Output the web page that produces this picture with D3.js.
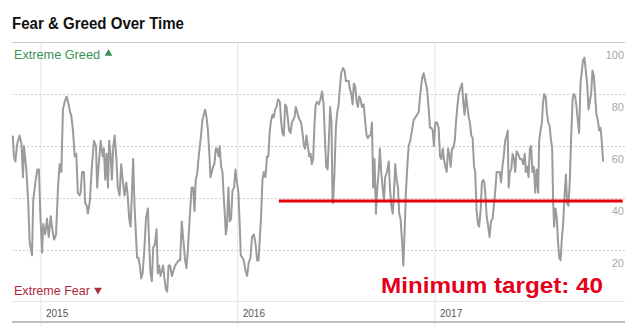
<!DOCTYPE html>
<html><head><meta charset="utf-8">
<script src="https://cdn.jsdelivr.net/npm/d3@7"></script>
<style>body{margin:0;background:#fff;} svg{display:block;font-family:"Liberation Sans",Arial,Helvetica,sans-serif;}</style>
</head><body><svg id="c" width="640" height="332"></svg>
<script>
const title = "Fear & Greed Over Time";
const greedLabel = "Extreme Greed";
const fearLabel = "Extreme Fear";
const annotation = "Minimum target: 40";
const yTicks = [20, 40, 60, 80, 100];
const yearTicks = [2015, 2016, 2017];
const target = 40;
const targetSpan = [2016.211, 2017.957];

// time as decimal year
const times = [
2014.859,2014.865,2014.872,2014.882,2014.894,2014.903,2014.911,2014.916,2014.928,2014.937,
2014.945,2014.957,2014.963,2014.974,2014.984,2014.992,2014.999,2015.008,2015.014,2015.024,
2015.033,2015.042,2015.052,2015.060,2015.069,2015.079,2015.089,2015.097,2015.106,2015.114,
2015.123,2015.133,2015.143,2015.150,2015.156,2015.165,2015.174,2015.182,2015.190,2015.199,
2015.204,2015.211,2015.221,2015.227,2015.235,2015.241,2015.251,2015.261,2015.272,2015.282,
2015.288,2015.295,2015.306,2015.316,2015.322,2015.329,2015.336,2015.343,2015.349,2015.356,
2015.363,2015.370,2015.377,2015.385,2015.393,2015.402,2015.410,2015.419,2015.427,2015.436,
2015.443,2015.451,2015.458,2015.464,2015.471,2015.478,2015.485,2015.491,2015.498,2015.505,
2015.512,2015.519,2015.527,2015.536,2015.546,2015.552,2015.559,2015.566,2015.573,2015.581,
2015.590,2015.596,2015.603,2015.610,2015.617,2015.623,2015.630,2015.637,2015.644,2015.651,
2015.659,2015.668,2015.676,2015.684,2015.693,2015.702,2015.710,2015.718,2015.727,2015.735,
2015.742,2015.749,2015.759,2015.768,2015.776,2015.783,2015.789,2015.796,2015.803,2015.810,
2015.816,2015.823,2015.830,2015.837,2015.844,2015.850,2015.857,2015.864,2015.871,2015.877,
2015.884,2015.891,2015.897,2015.905,2015.911,2015.918,2015.925,2015.931,2015.938,2015.942,
2015.948,2015.955,2015.962,2015.969,2015.976,2015.984,2015.991,2015.997,2016.006,2016.013,
2016.018,2016.026,2016.033,2016.042,2016.050,2016.058,2016.067,2016.075,2016.084,2016.092,
2016.101,2016.108,2016.114,2016.121,2016.128,2016.135,2016.143,2016.151,2016.158,2016.165,
2016.172,2016.179,2016.185,2016.192,2016.199,2016.207,2016.216,2016.222,2016.229,2016.236,
2016.243,2016.250,2016.256,2016.263,2016.270,2016.277,2016.283,2016.290,2016.297,2016.304,
2016.311,2016.317,2016.324,2016.331,2016.338,2016.344,2016.351,2016.358,2016.365,2016.372,
2016.378,2016.385,2016.392,2016.398,2016.405,2016.414,2016.422,2016.430,2016.438,2016.444,
2016.451,2016.458,2016.464,2016.471,2016.478,2016.483,2016.486,2016.493,2016.500,2016.507,
2016.514,2016.520,2016.527,2016.536,2016.544,2016.551,2016.557,2016.565,2016.571,2016.578,
2016.585,2016.591,2016.598,2016.605,2016.612,2016.618,2016.625,2016.632,2016.641,2016.649,
2016.656,2016.662,2016.669,2016.676,2016.683,2016.689,2016.696,2016.703,2016.710,2016.717,
2016.723,2016.730,2016.737,2016.744,2016.750,2016.759,2016.768,2016.774,2016.781,2016.788,
2016.794,2016.801,2016.808,2016.815,2016.821,2016.828,2016.835,2016.842,2016.849,2016.855,
2016.862,2016.869,2016.877,2016.886,2016.894,2016.903,2016.911,2016.920,2016.928,2016.937,
2016.945,2016.953,2016.962,2016.971,2016.977,2016.984,2016.991,2016.997,2017.004,2017.013,
2017.021,2017.028,2017.035,2017.042,2017.048,2017.055,2017.062,2017.069,2017.075,2017.082,
2017.089,2017.095,2017.103,2017.109,2017.116,2017.123,2017.131,2017.140,2017.146,2017.153,
2017.160,2017.167,2017.174,2017.180,2017.187,2017.194,2017.201,2017.207,2017.214,2017.221,
2017.227,2017.235,2017.241,2017.248,2017.253,2017.258,2017.265,2017.273,2017.280,2017.287,
2017.295,2017.302,2017.309,2017.316,2017.324,2017.332,2017.338,2017.344,2017.353,2017.359,
2017.367,2017.372,2017.377,2017.383,2017.390,2017.397,2017.404,2017.410,2017.417,2017.425,
2017.434,2017.443,2017.451,2017.459,2017.464,2017.471,2017.478,2017.485,2017.491,2017.498,
2017.505,2017.512,2017.519,2017.527,2017.532,2017.539,2017.546,2017.551,2017.557,2017.565,
2017.571,2017.578,2017.585,2017.591,2017.598,2017.603,2017.608,2017.615,2017.622,2017.627,
2017.634,2017.641,2017.647,2017.654,2017.661,2017.668,2017.674,2017.681,2017.688,2017.694,
2017.702,2017.708,2017.715,2017.722,2017.728,2017.735,2017.742,2017.749,2017.755,2017.762,
2017.769,2017.776,2017.783,2017.789,2017.796,2017.803,2017.810,2017.816,2017.823,2017.830,
2017.837,2017.844,2017.850,2017.857
];
const values = [
64,56,54,61,64,61,48,60,51,39,
23,18,39,46,51,51,34,19,30,26,
32,25,33,28,24,26,44,53,50,74,
77,79,76,73,72,66,56,57,42,41,
42,50,50,38,37,34,39,52,62,60,
44,52,62,56,59,47,57,44,62,57,
47,60,64,56,44,41,53,46,41,46,
41,32,29,41,55,37,26,17,17,14,
9,11,19,32,36,23,11,8,21,22,
28,11,14,10,12,14,9,5,4,14,
14,10,12,14,15,16,16,31,23,16,
13,20,33,44,44,35,47,49,55,60,
64,70,72,74,71,67,59,48,50,52,
53,59,59,56,60,52,50,41,32,26,
29,44,31,32,43,44,51,47,42,29,
18,17,16,12,10,15,17,25,26,23,
16,16,24,33,47,50,48,56,56,66,
70,72,71,74,75,78,77,70,65,64,
76,75,71,66,65,69,70,71,75,73,
71,70,69,65,60,59,64,60,56,57,
53,55,69,76,77,76,78,81,76,64,
52,51,61,75,69,39,38,50,67,73,
76,82,88,90,89,85,85,85,82,80,
76,84,83,77,75,79,78,75,76,69,
64,63,64,64,69,44,55,34,44,50,
59,50,44,39,48,50,54,44,37,34,
41,53,47,44,34,32,24,14,28,42,
52,60,62,66,70,71,72,73,80,86,
88,85,82,74,67,67,66,60,69,69,
67,56,55,59,55,52,50,59,57,52,
59,59,62,69,75,80,82,84,77,72,
80,75,71,69,64,63,52,50,35,30,
29,36,46,47,46,42,33,29,25,31,
32,37,43,50,50,50,46,51,57,62,
64,66,44,50,51,57,55,50,58,57,
55,55,53,57,50,52,48,59,60,50,
52,42,51,42,62,66,69,76,80,79,
73,69,68,63,59,39,29,36,32,24,
17,16,24,30,41,49,38,37,47,62,
78,80,79,75,70,65,84,89,93,94,
89,84,74,77,80,89,87,80,72,70,
66,67,62,54
];

function toDate(t) {
  const yr = Math.floor(t);
  const a = Date.UTC(yr, 0, 1), b = Date.UTC(yr + 1, 0, 1);
  return new Date(a + (t - yr) * (b - a));
}

const data = times.map((t, i) => ({ date: toDate(t), v: values[i] }));

const svg = d3.select("#c");
const left = 12, right = 625;
const x = d3.scaleUtc().domain([toDate(2015), toDate(2017)]).range([40.5, 434.5]);
const y = d3.scaleLinear().domain([0, 100]).range([302, 42]);

// title
svg.append("text").attr("x", 12).attr("y", 29)
  .attr("font-size", 16).attr("font-weight", "bold").attr("fill", "#111")
  .attr("textLength", 172).attr("lengthAdjust", "spacingAndGlyphs")
  .text(title);

// vertical year lines + labels (x axis)
const xAxis = d3.axisBottom(x)
  .tickValues(yearTicks.map(toDate))
  .tickFormat(d3.utcFormat("%Y"))
  .tickSize(-(326 - 43));
const gx = svg.append("g").attr("transform", "translate(0,326)").call(xAxis);
gx.select(".domain").remove();
gx.selectAll(".tick line").attr("stroke", "#e4e4e4");
gx.selectAll(".tick text").attr("text-anchor", "start").attr("x", 5).attr("y", -9).attr("dy", 0)
  .attr("font-size", 10).attr("fill", "#555").attr("font-family", "Liberation Sans, Arial, sans-serif");

// horizontal gridlines + right labels (y axis)
const yAxis = d3.axisRight(y).tickValues(yTicks).tickSize(-(right - left)).tickFormat(d3.format("d"));
const gy = svg.append("g").attr("transform", `translate(${right},0)`).call(yAxis);
gy.select(".domain").remove();
gy.selectAll(".tick line")
  .attr("stroke", d => d === 100 ? "#c8c8c8" : "#cfcfcf")
  .attr("stroke-dasharray", d => d === 100 ? null : "2,2");
gy.selectAll(".tick text").attr("text-anchor", "end").attr("x", -1).attr("dy", 16.5)
  .attr("font-size", 11).attr("fill", "#a8a8a8").attr("font-family", "Liberation Sans, Arial, sans-serif");

// baseline (0) and bottom rule
svg.append("line").attr("x1", left).attr("x2", right).attr("y1", y(0) - 0.5).attr("y2", y(0) - 0.5)
  .attr("stroke", "#e6e6e6");
svg.append("line").attr("x1", left).attr("x2", right).attr("y1", 322).attr("y2", 322)
  .attr("stroke", "#bdbdbd").attr("stroke-width", 2);

// greed / fear labels
const greed = svg.append("g");
greed.append("text").attr("x", 14).attr("y", 59).attr("font-size", 13).attr("fill", "#3b9258")
  .attr("textLength", 86).attr("lengthAdjust", "spacingAndGlyphs")
  .text(greedLabel);
greed.append("path").attr("d", d3.symbol(d3.symbolTriangle).size(26)())
  .attr("transform", "translate(108.5,53.5)").attr("fill", "#3b9258");
const fear = svg.append("g");
fear.append("text").attr("x", 14).attr("y", 294.5).attr("font-size", 13).attr("fill", "#b02a3c")
  .attr("textLength", 76).attr("lengthAdjust", "spacingAndGlyphs")
  .text(fearLabel);
fear.append("path").attr("d", d3.symbol(d3.symbolTriangle).size(26)())
  .attr("transform", "translate(98,290) rotate(180)").attr("fill", "#b02a3c");

// series line
const line = d3.line().x(d => x(d.date)).y(d => y(d.v));
svg.append("path").datum(data).attr("d", line)
  .attr("fill", "none").attr("stroke", "#9b9b9b").attr("stroke-width", 2)
  .attr("stroke-linejoin", "round");

// target annotation
svg.append("line")
  .attr("x1", x(toDate(targetSpan[0]))).attr("x2", x(toDate(targetSpan[1])))
  .attr("y1", y(target) + 3).attr("y2", y(target) + 3)
  .attr("stroke", "#e8000c").attr("stroke-width", 3);
svg.append("text").attr("x", 381).attr("y", 293)
  .attr("font-size", 22).attr("font-weight", "bold").attr("fill", "#e3001a")
  .attr("textLength", 222).attr("lengthAdjust", "spacingAndGlyphs")
  .text(annotation);
</script></body></html>
